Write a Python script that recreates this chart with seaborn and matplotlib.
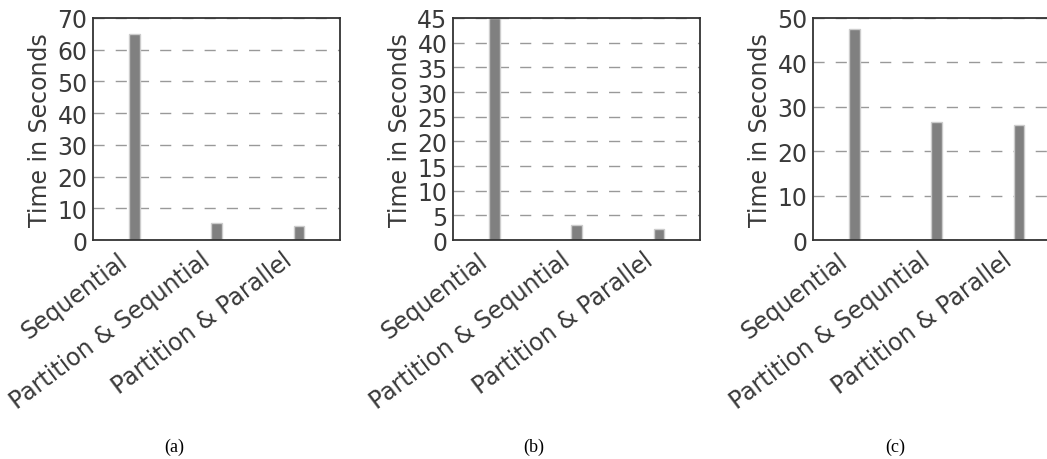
import pandas as pd
import numpy as np
import matplotlib
matplotlib.use('Agg')
import matplotlib.pyplot as plt
import matplotlib.transforms as mtransforms
import seaborn as sns

methods = ['Sequential', 'Partition & Sequntial', 'Partition & Parallel']
times_a = [65.0, 5.5, 4.5]
times_b = [45.0, 3.0, 2.3]
times_c = [47.5, 26.5, 25.8]
ylims = [70, 45, 50]
ystep = [10, 5, 10]
captions = ['(a)', '(b)', '(c)']

sns.set_style('white')
plt.rcParams['font.family'] = ['DejaVu Sans']
txt = '#3a3a3a'

fig = plt.figure(figsize=(10.47, 4.6), dpi=100)
lefts = [0.0888, 0.4327, 0.7765]
cap_x = [174, 534, 895]
shift = mtransforms.ScaledTranslation(-2 / 100, -2 / 100, fig.dpi_scale_trans)

for i, vals in enumerate([times_a, times_b, times_c]):
    ax = fig.add_axes([lefts[i], 0.476, 0.236, 0.4827])
    df = pd.DataFrame({'Method': methods, 'Time': vals})
    sns.barplot(x='Method', y='Time', data=df, order=methods, color='0.5',
                width=0.13, edgecolor='0.8', linewidth=1, saturation=1, ax=ax)
    ax.set_ylim(0, ylims[i])
    ax.set_xlim(-0.5, 2.5)
    ax.set_yticks(np.arange(0, ylims[i] + 1, ystep[i]))
    ax.yaxis.grid(True, linestyle=(0, (8, 8)), color='0.6', linewidth=1)
    ax.set_axisbelow(True)
    ax.set_xlabel('')
    ax.set_ylabel('Time in Seconds', fontsize=17, color=txt, labelpad=4)
    ax.tick_params(axis='both', labelsize=17, colors=txt, length=0, pad=4)
    for lab in ax.get_xticklabels():
        lab.set_rotation(37)
        lab.set_ha('right')
        lab.set_transform(lab.get_transform() + shift)
    for s in ax.spines.values():
        s.set_color('#333333')
        s.set_linewidth(1.3)
    fig.text(cap_x[i] / 1047, 1 - 447 / 460, captions[i], ha='center', va='center',
             fontsize=13, family='Liberation Serif', color='black')

fig.savefig('out.png', dpi=100)
